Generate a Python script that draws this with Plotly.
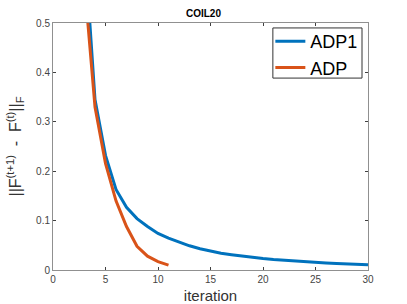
import plotly.graph_objects as go

iter_adp1 = list(range(3, 31))
adp1 = [0.66, 0.345, 0.232, 0.163, 0.127, 0.104, 0.088, 0.074, 0.0645, 0.056,
        0.049, 0.043, 0.038, 0.034, 0.031, 0.028, 0.0255, 0.0233, 0.0214, 0.0197,
        0.0182, 0.0168, 0.0155, 0.0143, 0.0133, 0.0123, 0.0114, 0.0107]
iter_adp = list(range(3, 12))
adp = [0.58, 0.33, 0.216, 0.14, 0.088, 0.048, 0.028, 0.017, 0.010]

x_ticks = [0, 5, 10, 15, 20, 25, 30]
y_ticks = [0, 0.1, 0.2, 0.3, 0.4, 0.5]

fig = go.Figure()
fig.add_trace(go.Scatter(x=iter_adp1, y=adp1, mode="lines", name="ADP1",
                         line=dict(color="#0072BD", width=3)))
fig.add_trace(go.Scatter(x=iter_adp, y=adp, mode="lines", name="ADP",
                         line=dict(color="#D95319", width=3)))

axis_common = dict(showgrid=False, zeroline=False, showline=True, mirror="ticks",
                   linecolor="#909090", linewidth=1, ticks="inside", ticklen=3,
                   tickcolor="#404040", automargin=False,
                   tickfont=dict(family="Liberation Sans, Arial", size=10, color="#444444"))

fig.update_layout(
    width=407, height=304,
    margin=dict(l=53, r=39, t=23, b=34, autoexpand=False),
    paper_bgcolor="white", plot_bgcolor="white",
    title=dict(text="<b>COIL20</b>", x=0.5, xanchor="center", y=0.957, yanchor="middle",
               yref="container",
               font=dict(family="Liberation Sans, Arial", size=10, color="#000000")),
    xaxis=dict(range=[0, 30], tickvals=x_ticks, ticktext=[str(v) for v in x_ticks],
               title=dict(text="iteration", standoff=6,
                          font=dict(family="Liberation Sans, Arial", size=15, color="#333333")),
               **axis_common),
    yaxis=dict(range=[0, 0.5], tickvals=y_ticks, ticktext=["0", "0.1", "0.2", "0.3", "0.4", "0.5"],
               title=dict(text="||F<sup>(t+1)</sup>  -  F<sup>(t)</sup>||<sub>F</sub>", standoff=10,
                          font=dict(family="Liberation Sans, Arial", size=16, color="#333333")),
               **axis_common),
    legend=dict(x=0.69, y=1.0, xanchor="left", yanchor="top",
                bgcolor="rgba(0,0,0,0)", borderwidth=0,
                font=dict(family="Liberation Sans, Arial", size=18, color="#000000"),
                tracegroupgap=0, itemwidth=30),
    showlegend=True,
    shapes=[dict(type="rect", xref="paper", yref="paper", x0=0.698, x1=0.981, y0=0.777, y1=0.980,
                 line=dict(color="#333333", width=1), fillcolor="rgba(0,0,0,0)", layer="below")],
)

fig.write_html("out.html", config={"displayModeBar": False},
               post_script="document.body.style.margin='0';document.body.style.padding='0';")
